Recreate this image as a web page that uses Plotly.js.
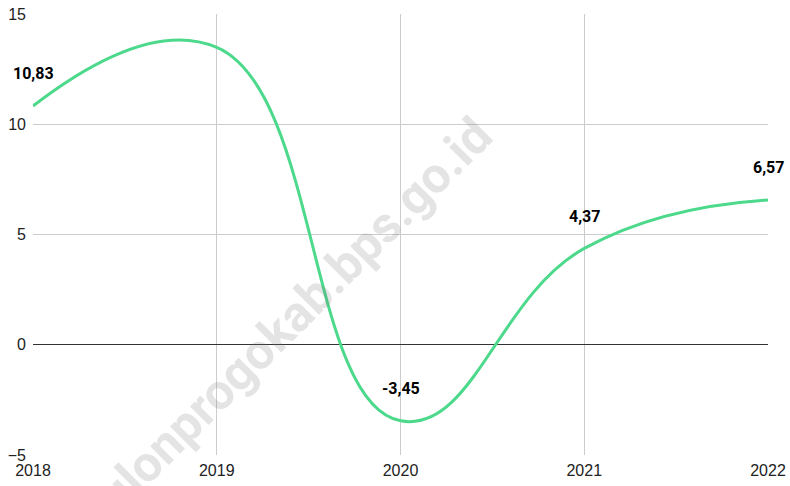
<!DOCTYPE html>
<html>
<head>
<meta charset="utf-8">
<script src="https://cdn.plot.ly/plotly-3.0.1.min.js"></script>
<style>
  html, body { margin: 0; padding: 0; background: #fff; }
  #chart { width: 790px; height: 486px; }
</style>
</head>
<body>
<div id="chart"></div>
<script>
// growth per year (%)
const years = [2018, 2019, 2020, 2021, 2022];
const growth = [10.83, 13.49, -3.45, 4.37, 6.57];
// 2019 label is not shown in the original
const labels = ['10,83', '', '-3,45', '4,37', '6,57'];

const trace = {
  x: years,
  y: growth,
  type: 'scatter',
  mode: 'lines',
  line: { color: '#4cd98b', width: 3, shape: 'spline', smoothing: 1.3 },
  hoverinfo: 'x+y'
};

const valueLabels = years.map((yr, i) => ({
  x: yr,
  y: growth[i],
  text: labels[i],
  showarrow: false,
  yshift: 32,
  font: { family: 'Roboto, Arial, sans-serif', size: 16, color: '#000', weight: 'bold' }
})).filter(a => a.text !== '');

const watermark = {
  x: 2019.37,
  y: 0.9,
  text: 'kulonprogokab.bps.go.id',
  showarrow: false,
  textangle: -45,
  xanchor: 'center',
  yanchor: 'middle',
  font: { family: 'Roboto, Arial, sans-serif', size: 50, color: 'rgba(120,120,120,0.2)', weight: 'bold' }
};

const layout = {
  width: 790,
  height: 486,
  margin: { l: 33, r: 22, t: 14, b: 31 },
  paper_bgcolor: '#fff',
  plot_bgcolor: '#fff',
  showlegend: false,
  font: { family: '"Liberation Sans", Arial, sans-serif', size: 16, color: '#222' },
  xaxis: {
    range: [2018, 2022],
    dtick: 1,
    tick0: 2018,
    showgrid: true,
    gridcolor: '#cccccc',
    zeroline: false,
    ticks: '',
    ticklabelstandoff: 4,
    tickfont: { size: 16, color: '#222' }
  },
  yaxis: {
    range: [-5, 15],
    dtick: 5,
    showgrid: true,
    gridcolor: '#cccccc',
    zeroline: true,
    zerolinecolor: '#333',
    zerolinewidth: 1,
    ticks: '',
    ticklabelstandoff: 6,
    tickfont: { size: 16, color: '#222' }
  },
  annotations: [watermark, ...valueLabels]
};

Plotly.newPlot('chart', [trace], layout, { displayModeBar: false, staticPlot: true });
</script>
</body>
</html>
